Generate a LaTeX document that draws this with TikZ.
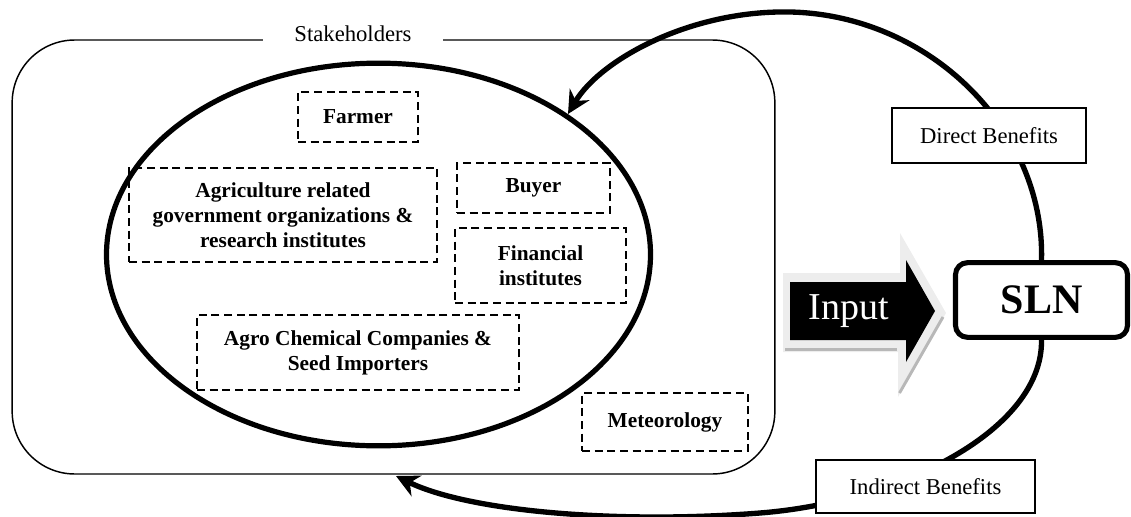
\documentclass[tikz,border=0pt]{standalone}
\usepackage{fontspec}
\setmainfont{Liberation Serif}
\usetikzlibrary{arrows.meta,shapes.geometric}

\begin{document}
\begin{tikzpicture}[x=0.75pt,y=-0.75pt,>={Stealth[length=17pt,width=17pt]},
                    font=\fontsize{17}{20}\selectfont]
  \tikzstyle{member}=[rectangle,draw=black,dash pattern=on 6pt off 3.5pt,line width=1.8pt,
                      align=center,inner sep=0pt,font=\fontsize{16}{18.75}\selectfont\bfseries]
  \tikzstyle{benefit}=[rectangle,draw=black,fill=white,line width=1pt,inner sep=0pt]
  \tikzstyle{feedback}=[->,line width=4pt]

  \useasboundingbox (0,0) rectangle (1131,517);

  % stakeholders group
  \node[rectangle,draw,line width=1.1pt,rounded corners=47pt,
        minimum width=572pt,minimum height=325.5pt] (group) at (393.5,257) {};
  \node[fill=white,minimum width=135pt,inner ysep=3pt,anchor=base] (grouplabel) at (353,42) {Stakeholders};
  \node[ellipse,draw,line width=3.9pt,inner sep=0pt,
        minimum width=408pt,minimum height=287pt] (stake) at (378.5,254.5) {};

  \node[member,minimum width=90pt,minimum height=37.5pt]     (farmer) at (358,117)   {Farmer};
  \node[member,minimum width=231pt,minimum height=70.5pt]    (agri)   at (283,215)   {Agriculture related\\government organizations \&\\research institutes};
  \node[member,minimum width=114.75pt,minimum height=37.5pt] (buyer)  at (533.5,188) {Buyer};
  \node[member,minimum width=128.25pt,minimum height=56.25pt](finance) at (540.5,265.5) {Financial\\institutes};
  \node[member,minimum width=241.5pt,minimum height=56.25pt] (agro)   at (358,352.5) {Agro Chemical Companies \&\\Seed Importers};
  \node[member,minimum width=124.5pt,minimum height=43.5pt]  (meteo)  at (665,422)   {Meteorology};

  % input arrow
  \fill[black!7] (783,273) -- (900,273) -- (900,233) -- (946,313) -- (898,397)
                 -- (898,352) -- (783,352) -- cycle;
  \draw[black!28,line width=2.2pt] (785,349.5) -- (897,349.5);
  \draw[black!28,line width=2.2pt] (943,317) -- (899.5,393);
  \fill[black] (790,282) -- (906,282) -- (906,260) -- (935,311) -- (906,362)
               -- (906,340) -- (790,340) -- cycle;
  \node[text=white,font=\fontsize{28.5}{32}\selectfont] (input) at (849,311) {Input};

  \node[rectangle,draw,line width=3.8pt,rounded corners=9pt,minimum width=129pt,minimum height=56pt,
        font=\fontsize{31.5}{36}\selectfont\bfseries] (sln) at (1041.5,300) {SLN};

  \coordinate (directtip) at (568,114);
  \coordinate (indirecttip) at (396,476);

  \draw[feedback] (sln.north) .. controls (1045,130) and (930,15) .. (790,12)
                  .. controls (690,10) and (600,60) .. (directtip);
  \draw[feedback] (sln.south) .. controls (1043,430) and (900,502) .. (760,513)
                  .. controls (620,524) and (470,512) .. (indirecttip);

  \node[benefit,minimum width=145.5pt,minimum height=41.25pt] (direct)   at (989,135.5)   {Direct Benefits};
  \node[benefit,minimum width=164.25pt,minimum height=39.75pt] (indirect) at (925.5,486.5) {Indirect Benefits};

\end{tikzpicture}
\end{document}
